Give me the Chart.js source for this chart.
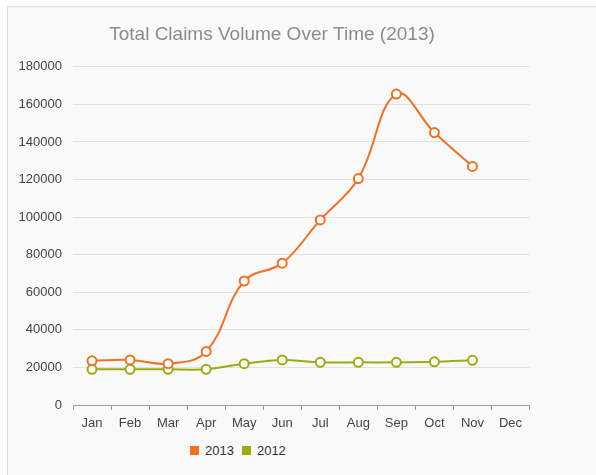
<!DOCTYPE html>
<html>
<head>
<meta charset="utf-8">
<script src="https://cdn.jsdelivr.net/npm/chart.js@4.4.1/dist/chart.umd.min.js"></script>
<style>
  html, body { margin: 0; padding: 0; background: #ffffff; width: 596px; height: 475px; overflow: hidden; font-family: Arial, "Liberation Sans", sans-serif; }
  #card { position: absolute; left: 7px; top: 6px; width: 700px; height: 600px; background: #f9f9f9; border: 1px solid #dcdcdc; box-sizing: border-box; }
  #chart { position: absolute; left: 8px; top: 8px; }
  #legend { position: absolute; left: 190px; top: 443px; display: flex; align-items: center; font-size: 13px; color: #333; }
  #legend .item { display: flex; align-items: center; margin-right: 8px; }
  #legend .sw { width: 9px; height: 9px; margin-right: 6px; }
</style>
</head>
<body>
<div id="card"></div>
<canvas id="chart" width="528" height="428"></canvas>
<div id="legend"></div>
<script>
const categories = ['Jan','Feb','Mar','Apr','May','Jun','Jul','Aug','Sep','Oct','Nov','Dec'];
const series2013 = [23500, 24000, 22000, 28500, 66000, 75500, 98500, 120500, 165500, 145000, 127000, null];
const series2012 = [19000, 19000, 19000, 19000, 22000, 24000, 22700, 22700, 22700, 23000, 23800, null];
const seriesNames = ['2013', '2012'];
const seriesColors = ['#f37021', '#9bac10'];
const titleText = 'Total Claims Volume Over Time (2013)';

const font = "Arial, 'Liberation Sans', sans-serif";

const chart = new Chart(document.getElementById('chart'), {
  type: 'line',
  data: {
    labels: categories,
    datasets: [
      {
        label: seriesNames[0], data: series2013,
        borderColor: seriesColors[0], backgroundColor: seriesColors[0],
        borderWidth: 2, tension: 0.4,
        pointRadius: 4.5, pointBorderWidth: 2,
        pointBackgroundColor: '#ffffff', pointBorderColor: seriesColors[0]
      },
      {
        label: seriesNames[1], data: series2012,
        borderColor: seriesColors[1], backgroundColor: seriesColors[1],
        borderWidth: 2, tension: 0.3,
        pointRadius: 4.5, pointBorderWidth: 2,
        pointBackgroundColor: '#ffffff', pointBorderColor: seriesColors[1]
      }
    ]
  },
  options: {
    responsive: false,
    animation: false,
    devicePixelRatio: 1,
    layout: { padding: { left: 0, right: 0, top: 0, bottom: 0 } },
    plugins: {
      legend: { display: false },
      tooltip: { enabled: false },
      title: {
        display: true, text: titleText, color: '#8c8c8c',
        font: { family: font, size: 19, weight: 'normal' },
        padding: { top: 15, bottom: 21 }
      }
    },
    scales: {
      x: {
        offset: true,
        grid: { display: true, drawOnChartArea: false, drawTicks: true, tickLength: 5, color: '#999999', offset: true },
        border: { display: true, color: '#999999', width: 1 },
        ticks: { color: '#444444', font: { family: font, size: 13 }, padding: 6, maxRotation: 0, autoSkip: false },
        afterFit: (s) => { s.height = 31; }
      },
      y: {
        min: 0, max: 180000,
        grid: { color: '#e2e2e2', lineWidth: 1, drawTicks: false },
        border: { display: false },
        ticks: { stepSize: 20000, color: '#444444', font: { family: font, size: 13 }, padding: 11,
                 callback: (v) => String(v) },
        afterFit: (s) => { s.width = 65; }
      }
    }
  }
});

// HTML legend built from the chart's own legend items
const legendEl = document.getElementById('legend');
chart.options.plugins.legend.labels.generateLabels(chart).forEach(item => {
  const div = document.createElement('div');
  div.className = 'item';
  const sw = document.createElement('span');
  sw.className = 'sw';
  sw.style.background = seriesColors[item.datasetIndex];
  const t = document.createElement('span');
  t.textContent = item.text;
  div.appendChild(sw); div.appendChild(t);
  legendEl.appendChild(div);
});
</script>
</body>
</html>
